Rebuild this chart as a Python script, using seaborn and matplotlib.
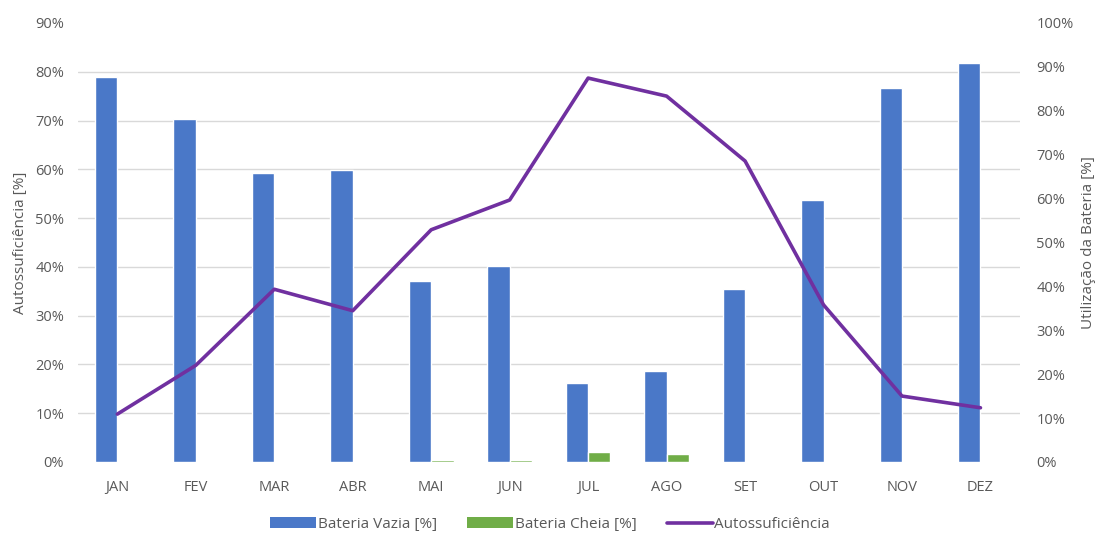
import numpy as np
import pandas as pd
import matplotlib
matplotlib.use("Agg")
import matplotlib.pyplot as plt
from matplotlib.patches import Patch
from matplotlib.lines import Line2D
from matplotlib.ticker import PercentFormatter
import seaborn as sns

# Data
months = ["JAN", "FEV", "MAR", "ABR", "MAI", "JUN",
          "JUL", "AGO", "SET", "OUT", "NOV", "DEZ"]
bateria_vazia = [87.7, 78.1, 65.8, 66.5, 41.2, 44.6, 18.0, 20.7, 39.4, 59.7, 85.2, 90.9]
bateria_cheia = [0.0, 0.0, 0.0, 0.0, 0.4, 0.4, 2.3, 1.8, 0.0, 0.0, 0.0, 0.0]
autossuficiencia = [9.8, 19.8, 35.4, 31.0, 47.6, 53.7, 78.7, 75.0, 61.7, 32.2, 13.5, 11.1]

serie_vazia = "Bateria Vazia [%]"
serie_cheia = "Bateria Cheia [%]"
serie_auto = "Autossuficiência"

df_bars = pd.DataFrame({
    "mes": months * 2,
    "serie": [serie_vazia] * 12 + [serie_cheia] * 12,
    "valor": bateria_vazia + bateria_cheia,
})
df_line = pd.DataFrame({"pos": np.arange(len(months)), "valor": autossuficiencia})

blue = "#4A78C8"
green = "#70AD47"
purple = "#7030A0"
txt = "#595959"

sns.set_style("white")
plt.rcParams["font.family"] = ["Open Sans", "DejaVu Sans"]

fig = plt.figure(figsize=(11, 5.34), dpi=100)
ax = fig.add_axes([0.071, 0.135, 0.856, 0.822])

# Bars -> battery utilisation (right scale)
sns.barplot(data=df_bars, x="mes", y="valor", hue="serie", order=months,
            hue_order=[serie_vazia, serie_cheia],
            palette=[blue, green], width=0.57, gap=0, saturation=1,
            legend=False, ax=ax)
ax.set_xlim(-0.5, 11.5)
ax.set_ylim(0, 100)
ax.set_xlabel("")
# gridlines follow the left scale (every 10% of 0-90%)
ax.set_yticks(np.linspace(0, 100, 10), minor=True)
ax.grid(False)
ax.yaxis.grid(True, which="minor", color="#D9D9D9", linewidth=1)
ax.set_axisbelow(True)

# Line -> self-sufficiency (left scale)
ax2 = ax.twinx()
sns.lineplot(data=df_line, x="pos", y="valor", color=purple, linewidth=2.6,
             ax=ax2, legend=False)
ax2.set_ylim(0, 90)
ax2.set_yticks(np.arange(0, 91, 10))
ax2.yaxis.set_major_formatter(PercentFormatter(decimals=0))
ax2.yaxis.tick_left()
ax2.yaxis.set_label_position("left")
ax2.set_ylabel("Autossuficiência [%]", color=txt, fontsize=11, labelpad=5)
ax2.set_xlabel("")

# right scale on the bar axis (after twinx, which moves ticks back left)
ax.set_yticks(np.arange(0, 101, 10))
ax.yaxis.set_major_formatter(PercentFormatter(decimals=0))
ax.yaxis.tick_right()
ax.yaxis.set_label_position("right")
ax.set_ylabel("Utilização da Bateria [%]", color=txt, fontsize=11, labelpad=5)

for a in (ax, ax2):
    for s in a.spines.values():
        s.set_visible(False)
    a.tick_params(axis="both", which="both", length=0, colors=txt, labelsize=10.5)
ax.tick_params(axis="x", pad=13)
ax.tick_params(axis="y", pad=12)
ax2.tick_params(axis="y", pad=10)

handles = [
    Patch(facecolor=blue, edgecolor="none", label=serie_vazia),
    Patch(facecolor=green, edgecolor="none", label=serie_cheia),
    Line2D([0], [0], color=purple, linewidth=2.6, label=serie_auto),
]
leg = fig.legend(handles=handles, loc="lower center", ncol=3, frameon=False,
                 bbox_to_anchor=(0.5, -0.022), fontsize=11, handlelength=3.0,
                 handleheight=0.75, handletextpad=0.1, columnspacing=2.0)
for t in leg.get_texts():
    t.set_color(txt)

fig.savefig("out.png", dpi=100)
